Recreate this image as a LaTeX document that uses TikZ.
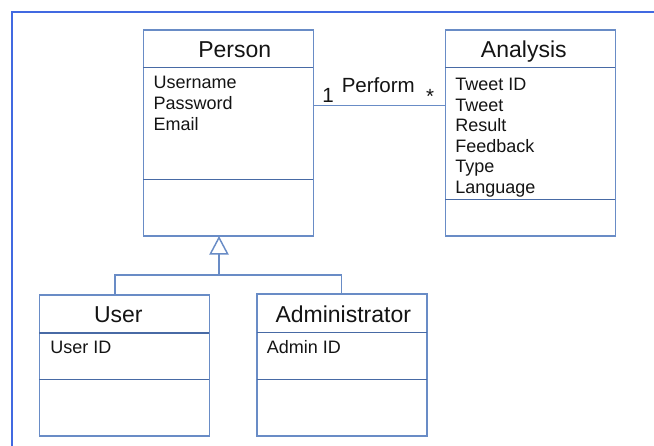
\documentclass[tikz,border=0pt]{standalone}
\usepackage{fontspec}
\setmainfont{Liberation Sans}
\usetikzlibrary{arrows.meta,calc}
\definecolor{frameblue}{RGB}{65,105,225}
\definecolor{umlblue}{RGB}{105,140,198}
\definecolor{divblue}{RGB}{72,106,165}
\definecolor{txt}{RGB}{20,20,20}
\begin{document}
\begin{tikzpicture}[x=0.75pt,y=-0.75pt,
  umlbox/.style={draw=umlblue,line width=1.2pt,rectangle,inner sep=0pt,outer sep=0pt,minimum width=127.5pt},
  umlline/.style={draw=umlblue,line width=1.1pt},
  divline/.style={draw=divblue,line width=1.1pt},
  ctitle/.style={anchor=base,inner sep=0pt,text=txt,font=\fontsize{17.25}{20}\selectfont},
  cattr/.style={anchor=base west,inner sep=0pt,text=txt,font=\fontsize{13.5}{16}\selectfont},
  clabel/.style={anchor=base,inner sep=0pt,text=txt,font=\fontsize{15.4}{18}\selectfont}]
\useasboundingbox (0,0) rectangle (654,446);
\draw[frameblue,line width=1.6pt] (12,446) -- (12,12) -- (654,12);

% Person
\node[umlbox,minimum height=154.5pt] (person) at (228.3,133) {};
\draw[divline] (person.west |- 0,67.7) -- (person.east |- 0,67.7);
\draw[divline] (person.west |- 0,179.3) -- (person.east |- 0,179.3);
\node[ctitle] (persont) at (234.7,57.3) {Person};
\node[cattr] (pa1) at (153.3,88.3) {Username};
\node[cattr] (pa2) at (153.3,109.5) {Password};
\node[cattr] (pa3) at (153.3,130.7) {Email};

% Analysis
\node[umlbox,minimum height=154.5pt] (analysis) at (530.3,133) {};
\draw[divline] (analysis.west |- 0,67.7) -- (analysis.east |- 0,67.7);
\draw[divline] (analysis.west |- 0,199.7) -- (analysis.east |- 0,199.7);
\node[ctitle] (analysist) at (523.8,57.3) {Analysis};
\node[cattr] (aa1) at (455,90.7) {Tweet ID};
\node[cattr] (aa2) at (455,111.2) {Tweet};
\node[cattr] (aa3) at (455,131.7) {Result};
\node[cattr] (aa4) at (455,152.3) {Feedback};
\node[cattr] (aa5) at (455,172.8) {Type};
\node[cattr] (aa6) at (455,193.3) {Language};

% User
\node[umlbox,minimum height=105.75pt] (user) at (124.3,365.5) {};
\draw[divline] (user.west |- 0,333) -- (user.east |- 0,333);
\draw[divline] (user.west |- 0,379.3) -- (user.east |- 0,379.3);
\node[ctitle] (usert) at (118.3,322.3) {User};
\node[cattr] (ua1) at (50,353.3) {User ID};

% Administrator
\node[umlbox,minimum height=106.5pt] (admin) at (341.7,365) {};
\draw[divline] (admin.west |- 0,332.3) -- (admin.east |- 0,332.3);
\draw[divline] (admin.west |- 0,379.3) -- (admin.east |- 0,379.3);
\node[ctitle] (admint) at (343.3,322.3) {Administrator};
\node[cattr] (ada1) at (266.7,353.3) {Admin ID};

% Association
\coordinate (assoc) at (0,105.7);
\draw[umlline] (person.east |- assoc) -- (analysis.west |- assoc);
\node[clabel] (mult1) at (328,102.7) {1};
\node[clabel] (perform) at (378.3,92.3) {Perform};
\node[clabel] (mult2) at (430,103.5) {*};

% Generalization
\coordinate (inh) at (219,275);
\coordinate (ujoin) at (115,0);
\draw[umlline] (user.north -| ujoin) |- (inh) -| (admin.north);
\draw[umlline,-{Triangle[open,length=14pt,width=14.5pt]}] (inh) -- (inh |- person.south);
\end{tikzpicture}
\end{document}
